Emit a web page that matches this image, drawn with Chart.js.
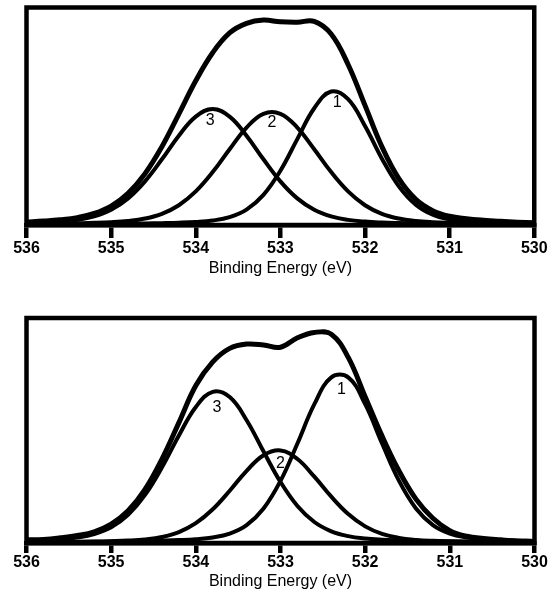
<!DOCTYPE html>
<html>
<head>
<meta charset="utf-8">
<title>O 1s spectra</title>
<script src="https://cdn.jsdelivr.net/npm/chart.js@4.4.1/dist/chart.umd.min.js"></script>
<style>
  html, body { margin: 0; padding: 0; background: #fff; }
  canvas.panel { position: absolute; left: 0; }
</style>
</head>
<body>
<canvas id="topChart" class="panel" width="549" height="297" style="top:0"></canvas>
<canvas id="bottomChart" class="panel" width="549" height="297" style="top:297px"></canvas>
<script>
// Binding energy grid (eV), shared by both spectra
const energy = [536.0, 535.8, 535.6, 535.4, 535.2, 535.0, 534.8, 534.6, 534.4, 534.2, 534.0,
                533.8, 533.6, 533.4, 533.2, 533.0, 532.8, 532.6, 532.4, 532.2, 532.0,
                531.8, 531.6, 531.4, 531.2, 531.0, 530.8, 530.6, 530.4, 530.2, 530.0];
const energyTicks = [536, 535, 534, 533, 532, 531, 530];

// Upper spectrum: measured envelope and three fitted components (arb. units)
const topEnvelope = [1.4, 1.8, 2.4, 3.4, 5.3, 8.7, 14.6, 23.6, 36.0, 51.0, 66.3,
                     79.2, 88.3, 92.7, 94.2, 93.4, 93.2, 93.6, 87.8, 73.8, 55.0,
                     36.0, 21.3, 11.8, 6.6, 4.0, 2.9, 2.2, 1.7, 1.3, 1.0];
const topPeak1 = [0.28, 0.31, 0.35, 0.40, 0.45, 0.52, 0.61, 0.72, 0.86, 1.05, 1.39,
                  2.07, 3.63, 7.08, 13.87, 24.95, 39.49, 53.69, 61.36, 57.90, 45.53,
                  30.50, 17.78, 9.32, 4.71, 2.54, 1.60, 1.17, 0.93, 0.77, 0.65];
const topPeak2 = [0.52, 0.60, 0.69, 0.82, 0.99, 1.29, 1.85, 2.96, 5.14, 9.09, 15.44,
                  24.32, 34.82, 44.80, 51.13, 51.13, 44.80, 34.82, 24.32, 15.44, 9.09,
                  5.14, 2.96, 1.85, 1.29, 0.99, 0.82, 0.69, 0.60, 0.52, 0.46];
const topPeak3 = [0.92, 1.15, 1.56, 2.36, 3.98, 7.02, 12.24, 20.08, 30.21, 41.06, 49.84,
                  53.30, 49.84, 41.06, 30.21, 20.08, 12.24, 7.02, 3.98, 2.36, 1.56,
                  1.15, 0.92, 0.76, 0.66, 0.57, 0.50, 0.44, 0.39, 0.35, 0.32];

// Lower spectrum
const bottomEnvelope = [1.4, 1.6, 2.3, 3.3, 5.0, 8.4, 14.3, 23.8, 37.3, 53.5, 70.0,
                        80.5, 86.5, 88.4, 88.0, 87.0, 91.2, 93.6, 92.8, 82.5, 65.0,
                        47.5, 32.0, 19.5, 11.0, 5.5, 3.0, 2.0, 1.4, 0.9, 0.7];
const bottomPeak1 = [0.35, 0.39, 0.44, 0.50, 0.57, 0.65, 0.75, 0.88, 1.05, 1.29, 1.68,
                     2.46, 4.19, 7.97, 15.35, 27.59, 44.21, 61.69, 73.61, 73.61, 61.69,
                     44.21, 27.59, 15.35, 7.97, 4.19, 2.46, 1.68, 1.29, 1.05, 0.88];
const bottomPeak2 = [0.35, 0.40, 0.47, 0.54, 0.64, 0.80, 1.06, 1.58, 2.67, 4.85, 8.80,
                     14.98, 23.20, 32.07, 39.02, 41.14, 37.32, 29.47, 20.58, 12.88, 7.39,
                     4.05, 2.26, 1.39, 0.97, 0.75, 0.61, 0.52, 0.45, 0.39, 0.34];
const bottomPeak3 = [1.05, 1.28, 1.67, 2.41, 3.93, 6.96, 12.49, 21.36, 33.62, 47.78, 60.46,
                     67.20, 64.85, 54.57, 40.64, 27.11, 16.47, 9.34, 5.20, 3.04, 1.97,
                     1.44, 1.15, 0.95, 0.82, 0.71, 0.62, 0.55, 0.49, 0.44, 0.39];

// Component numbers written next to each peak (energy, intensity)
const peakNames = ['1', '2', '3'];
const topNameEnergy = [532.33, 533.10, 533.83];
const topNameHeight = [56.1, 46.9, 47.8];
const bottomNameEnergy = [532.28, 533.00, 533.75];
const bottomNameHeight = [68.2, 35.2, 60.3];

const FONT = '"Liberation Sans", Arial, Helvetica, sans-serif';
Chart.defaults.font.family = FONT;
Chart.defaults.color = '#000';

/**
 * Box around the plot area plus the peak numbers
 */
const framePlugin = {
    id: 'frame',
    afterDatasetsDraw(chart, args, opts) {
        const { ctx, chartArea: a, scales } = chart;
        ctx.save();
        ctx.strokeStyle = '#000';
        ctx.lineWidth = 4.5;
        ctx.strokeRect(a.left, a.top, a.right - a.left, a.bottom - a.top);

        ctx.fillStyle = '#000';
        ctx.font = '16px ' + FONT;
        ctx.textAlign = 'center';
        ctx.textBaseline = 'middle';
        opts.names.forEach((t, i) => {
            ctx.fillText(t, scales.x.getPixelForValue(opts.energy[i]), scales.y.getPixelForValue(opts.height[i]));
        });
        ctx.restore();
    }
};

function toPoints(values) {
    return energy.map((e, i) => ({ x: e, y: values[i] }));
}

/**
 * Build one XPS panel
 * @param {string} canvasId - canvas to draw on
 * @param {Array} series - [envelope, peak1, peak2, peak3]
 * @param {Object} names - label energies/heights
 * @param {Object} geom - padding and axis sizes for this panel
 */
function createSpectrum(canvasId, series, names, geom) {
    const ctx = document.getElementById(canvasId).getContext('2d');
    const datasets = series.map((values, i) => ({
        data: toPoints(values),
        borderColor: '#000',
        borderWidth: i === 0 ? 5 : 4,
        pointRadius: 0,
        fill: false,
        tension: 0.4
    }));

    return new Chart(ctx, {
        type: 'line',
        data: { datasets },
        options: {
            responsive: false,
            animation: false,
            devicePixelRatio: 1,
            layout: { padding: geom.padding },
            plugins: {
                legend: { display: false },
                tooltip: { enabled: false },
                frame: { names: peakNames, energy: names.energy, height: names.height }
            },
            scales: {
                x: {
                    type: 'linear',
                    reverse: true,
                    min: 530,
                    max: 536,
                    afterBuildTicks: axis => { axis.ticks = energyTicks.map(v => ({ value: v })); },
                    afterFit: axis => { axis.height = geom.axisHeight; },
                    border: { display: true, color: '#000', width: 4.5 },
                    grid: {
                        drawOnChartArea: false,
                        drawTicks: true,
                        tickLength: geom.tickLength,
                        lineWidth: 4.5,
                        color: '#000'
                    },
                    ticks: {
                        padding: geom.tickPadding,
                        maxRotation: 0,
                        color: '#000',
                        font: { size: 16, weight: 'bold' },
                        callback: v => String(v)
                    },
                    title: {
                        display: true,
                        text: 'Binding Energy (eV)',
                        color: '#000',
                        padding: 0,
                        font: { size: 16 }
                    }
                },
                y: {
                    display: false,
                    min: 0,
                    max: 100
                }
            }
        },
        plugins: [framePlugin]
    });
}

createSpectrum('topChart',
    [topEnvelope, topPeak1, topPeak2, topPeak3],
    { energy: topNameEnergy, height: topNameHeight },
    { padding: { top: 7.5, left: 26.5, right: 14.5, bottom: 18.4 }, axisHeight: 53.6, tickLength: 13, tickPadding: 1.4 });

createSpectrum('bottomChart',
    [bottomEnvelope, bottomPeak1, bottomPeak2, bottomPeak3],
    { energy: bottomNameEnergy, height: bottomNameHeight },
    { padding: { top: 21, left: 26.5, right: 14.5, bottom: 2.4 }, axisHeight: 48.6, tickLength: 10, tickPadding: 0 });
</script>
</body>
</html>
